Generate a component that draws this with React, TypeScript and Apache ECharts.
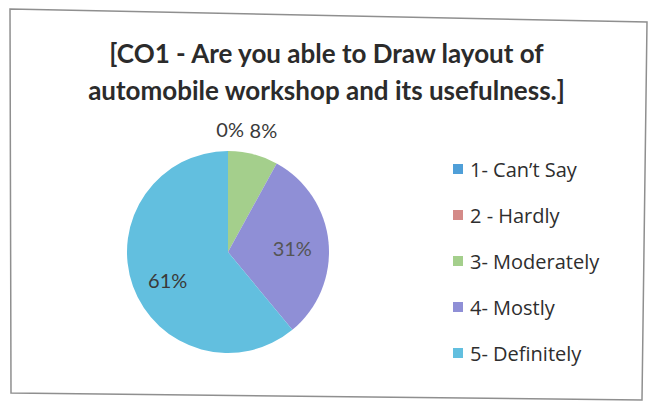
import React, { useEffect, useRef } from "react";
import * as echarts from "echarts";

const categories = ["1- Can\u2019t Say", "2 - Hardly", "3- Moderately", "4- Mostly", "5- Definitely"];
const percentValues = [0, 0, 8, 31, 61];
const sliceColors = ["#4f9fd8", "#d48a88", "#a4cf8c", "#8f8fd6", "#62bfdf"];
const titleText = "[CO1 - Are you able to Draw layout of\nautomobile workshop and its usefulness.]";

export default function App() {
  const ref = useRef<HTMLDivElement>(null);
  useEffect(() => {
    if (!ref.current) return;
    const chart = echarts.init(ref.current, undefined, { renderer: "svg" });
    const labelCfg: any[] = [
      { show: false },
      { show: true, position: "outside", offset: [21, -16] },
      { show: true, position: "outside", offset: [-10, -18] },
      { show: true, position: "inside", offset: [11, 1], color: "#555" },
      { show: true, position: "inside", offset: [-10, 10] },
    ];
    chart.setOption({
      animation: false,
      backgroundColor: "#ffffff",
      title: {
        text: titleText,
        left: "center",
        top: 29,
        textStyle: {
          fontFamily: "Lato",
          fontWeight: "bold",
          fontSize: 26,
          lineHeight: 37,
          color: "#2b2b2b",
        },
      },
      legend: {
        orient: "vertical",
        left: 448,
        top: 154,
        itemGap: 26,
        itemWidth: 10,
        itemHeight: 10,
        icon: "rect",
        data: categories,
        textStyle: { fontFamily: "Open Sans", fontSize: 20, color: "#2e2e2e", padding: [0, 0, 0, 2] },
      },
      graphic: [
        {
          type: "polygon",
          shape: { points: [[10, 9], [647, 22], [642, 400], [11, 393]] },
          style: { fill: "none", stroke: "#8f8f8f", lineWidth: 1.5 },
        },
      ],
      series: [
        {
          type: "pie",
          center: [228, 252],
          radius: 101,
          startAngle: 90,
          clockwise: true,
          avoidLabelOverlap: false,
          labelLine: { show: false, length: 6, length2: 0 },
          label: {
            fontFamily: "Lato",
            fontSize: 20,
            color: "#3a3a3a",
            formatter: (p: any) => `${p.value}%`,
          },
          emphasis: { disabled: true },
          data: categories.map((name, i) => ({
            name,
            value: percentValues[i],
            itemStyle: { color: sliceColors[i] },
            label: labelCfg[i],
          })),
        },
      ],
    });
    return () => chart.dispose();
  }, []);
  return (
    <div
      ref={ref}
      style={{ position: "absolute", left: 0, top: 0, width: 653, height: 408 }}
    />
  );
}
